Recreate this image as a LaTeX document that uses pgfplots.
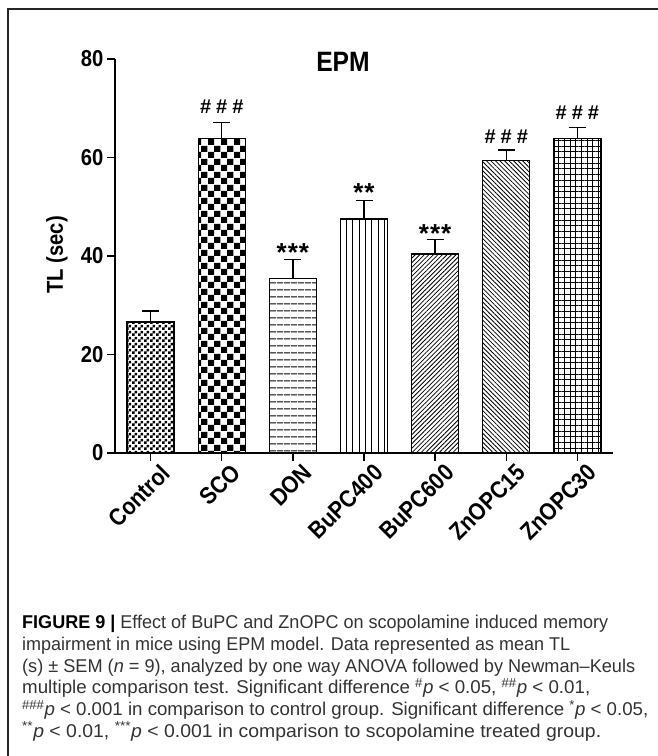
\documentclass[border=0pt]{standalone}
\usepackage{pgfplots}
\pgfplotsset{compat=1.18}
\usepackage{graphicx}
\usepackage{fontspec}
\setmainfont{Liberation Sans}
\newfontfamily\chartfont[FakeStretch=0.88]{Liberation Sans}
\newfontfamily\markfont{Liberation Sans}
\usetikzlibrary{patterns,patterns.meta}

\pgfdeclarepatternformonly{checkSmall}{\pgfqpoint{0pt}{0pt}}{\pgfqpoint{6pt}{6pt}}{\pgfqpoint{6pt}{6pt}}{%
  \pgfpathrectangle{\pgfqpoint{0pt}{0pt}}{\pgfqpoint{3pt}{3pt}}%
  \pgfpathrectangle{\pgfqpoint{3pt}{3pt}}{\pgfqpoint{3pt}{3pt}}%
  \pgfusepath{fill}}
\pgfdeclarepatternformonly{checkLarge}{\pgfqpoint{0pt}{0pt}}{\pgfqpoint{13pt}{13pt}}{\pgfqpoint{13pt}{13pt}}{%
  \pgfpathrectangle{\pgfqpoint{0pt}{0pt}}{\pgfqpoint{6.5pt}{6.5pt}}%
  \pgfpathrectangle{\pgfqpoint{6.5pt}{6.5pt}}{\pgfqpoint{6.5pt}{6.5pt}}%
  \pgfusepath{fill}}

\newcommand{\capline}[2]{\resizebox{#1pt}{\height}{#2}}

\begin{document}
\begin{tikzpicture}[x=1pt,y=1pt]
\useasboundingbox (0,0) rectangle (657,756);
\draw[line width=1.1pt, black!85] (8,-2) -- (8,747) -- (660,747);
\begin{axis}[
  at={(115pt,303pt)}, anchor=south west,
  scale only axis, width=498pt, height=394pt,
  xmin=-0.5, xmax=6.5, ymin=0, ymax=80,
  axis x line*=bottom, axis y line*=left,
  axis line style={line width=1.6pt},
  xtick={0,...,6},
  xticklabels={Control,SCO,DON,BuPC400,BuPC600,ZnOPC15,ZnOPC30},
  ytick={0,20,40,60,80},
  tick align=outside, major tick length=8pt,
  tick style={line width=1.5pt, black},
  x tick label style={rotate=45, anchor=north east, inner sep=1pt, xshift=6pt, yshift=-6pt,
     font=\chartfont\bfseries\fontsize{24}{24}\selectfont},
  y tick label style={font=\chartfont\bfseries\fontsize{23}{23}\selectfont},
  /pgf/number format/assume math mode=true,
  clip=false,
  bar width=47pt,
  error bars/y dir=plus, error bars/y explicit,
  error bars/error mark=|,
  error bars/error bar style={line width=1.5pt, black},
  error bars/error mark options={line width=1.5pt, black, mark size=8.5pt},
]
\addplot[ybar, bar shift=0pt, draw=black, line width=1.3pt, pattern=checkSmall]
  coordinates {(0,26.6) +- (0,2.2)};
\addplot[ybar, bar shift=0pt, draw=black, line width=1.3pt, pattern=checkLarge]
  coordinates {(1,63.9) +- (0,3.2)};
\addplot[ybar, bar shift=0pt, draw=black, line width=1.3pt, pattern={Lines[angle=0,distance=6.5pt,line width=1pt]}]
  coordinates {(2,35.5) +- (0,3.8)};
\addplot[ybar, bar shift=0pt, draw=black, line width=1.3pt, pattern={Lines[angle=90,distance=6.3pt,line width=1pt]}]
  coordinates {(3,47.5) +- (0,3.8)};
\addplot[ybar, bar shift=0pt, draw=black, line width=1.3pt, pattern={Lines[angle=45,distance=3.2pt,line width=0.8pt]}]
  coordinates {(4,40.4) +- (0,3.0)};
\addplot[ybar, bar shift=0pt, draw=black, line width=1.3pt, pattern={Lines[angle=-45,distance=3.2pt,line width=0.8pt]}]
  coordinates {(5,59.4) +- (0,2.1)};
\addplot[ybar, bar shift=0pt, draw=black, line width=1.3pt, pattern={Hatch[angle=0,distance=5.7pt,line width=0.9pt]}]
  coordinates {(6,63.9) +- (0,2.2)};
% significance marks
\addplot[draw=none, mark=none, nodes near coords={\#\hspace{0.25em}\#\hspace{0.25em}\#},
  every node near coord/.style={anchor=center, font=\markfont\bfseries\fontsize{20}{20}\selectfont}]
  coordinates {(1,70.3) (5,64.2) (6,69.0)};
\addplot[draw=none, mark=none, nodes near coords={*\hspace{1pt}*\hspace{1pt}*},
  every node near coord/.style={anchor=center, font=\markfont\bfseries\fontsize{26}{26}\selectfont}]
  coordinates {(2,40.7) (4,44.6)};
\addplot[draw=none, mark=none, nodes near coords={*\hspace{1pt}*},
  every node near coord/.style={anchor=center, font=\markfont\bfseries\fontsize{26}{26}\selectfont}]
  coordinates {(3,52.9)};
\end{axis}
\node[font=\chartfont\bfseries\fontsize{28}{28}\selectfont] at (343,694) {EPM};
\node[rotate=90, font=\chartfont\bfseries\fontsize{23}{23}\selectfont] at (57,501) {TL (sec)};
\begin{scope}[every node/.style={anchor=base west, inner sep=0pt, font=\fontsize{18.5}{22}\selectfont, text=black!80}]
\node at (22,127) {\capline{586}{\textbf{\color{black}FIGURE 9 |} Effect of BuPC and ZnOPC on scopolamine induced memory}};
\node at (22,105.4) {\capline{548}{impairment in mice using EPM model. Data represented as mean TL}};
\node at (22,83.8) {\capline{613}{(s) ± SEM (\textit{n} = 9), analyzed by one way ANOVA followed by Newman–Keuls}};
\node at (22,62.2) {\capline{568}{multiple comparison test. Significant difference \textsuperscript{\#}\textit{p} < 0.05, \textsuperscript{\#\#}\textit{p} < 0.01,}};
\node at (22,40.6) {\capline{626}{\textsuperscript{\#\#\#}\textit{p} < 0.001 in comparison to control group. Significant difference \textsuperscript{*}\textit{p} < 0.05,}};
\node at (22,19) {\capline{579}{\textsuperscript{**}\textit{p} < 0.01, \textsuperscript{***}\textit{p} < 0.001 in comparison to scopolamine treated group.}};
\end{scope}
\end{tikzpicture}
\end{document}
